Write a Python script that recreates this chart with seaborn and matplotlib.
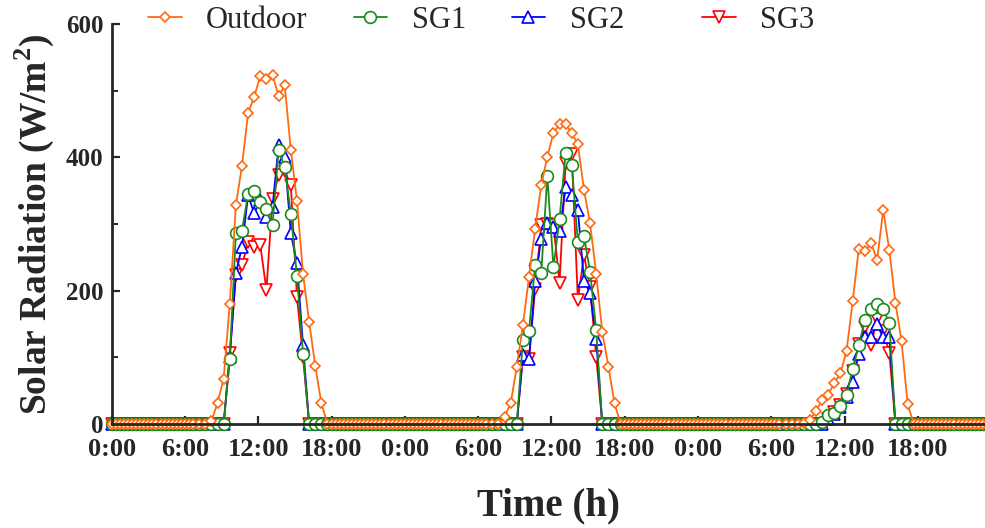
import numpy as np
import matplotlib
matplotlib.use('Agg')
import matplotlib.pyplot as plt
import seaborn as sns
from matplotlib.ticker import MultipleLocator

# daytime readings every 30 min from 7:10 to 17:40 (W/m2), night readings are 0
day_hours = 7 + 10 / 60 + 0.5 * np.arange(22)

outdoor_d1 = [0, 0, 4, 32, 68, 180, 328, 387, 466, 491, 522, 518, 523, 492, 508, 411, 335, 225, 153, 87, 31, 0]
sg1_d1 = [0, 0, 0, 0, 0, 98, 286, 290, 345, 350, 333, 322, 298, 411, 385, 315, 222, 105, 0, 0, 0, 0]
sg2_d1 = [0, 0, 0, 0, 0, 100, 226, 266, 343, 316, 336, 311, 326, 418, 401, 286, 241, 118, 0, 0, 0, 0]
sg3_d1 = [0, 0, 0, 0, 0, 106, 223, 238, 273, 266, 268, 201, 338, 373, 380, 358, 191, 100, 0, 0, 0, 0]

outdoor_d2 = [0, 0, 11, 31, 86, 148, 221, 293, 358, 401, 436, 450, 450, 436, 420, 351, 301, 225, 138, 86, 31, 0]
sg1_d2 = [0, 0, 0, 0, 0, 126, 140, 238, 226, 372, 235, 308, 407, 388, 273, 282, 228, 141, 0, 0, 0, 0]
sg2_d2 = [0, 0, 0, 0, 0, 103, 97, 214, 278, 302, 295, 289, 355, 343, 321, 215, 197, 127, 0, 0, 0, 0]
sg3_d2 = [0, 0, 0, 0, 0, 101, 98, 203, 298, 300, 298, 212, 391, 405, 186, 253, 205, 101, 0, 0, 0, 0]

outdoor_d3 = [0, 0, 0, 2, 6, 20, 36, 44, 62, 76, 110, 184, 263, 259, 272, 246, 321, 261, 182, 124, 30, 0]
sg1_d3 = [0, 0, 0, 0, 0, 0, 3, 13, 16, 27, 44, 82, 118, 156, 172, 180, 172, 152, 0, 0, 0, 0]
sg2_d3 = [0, 0, 0, 0, 0, 0, 0, 8, 15, 25, 40, 63, 105, 131, 131, 150, 131, 130, 0, 0, 0, 0]
sg3_d3 = [0, 0, 0, 0, 0, 0, 0, 8, 18, 28, 45, 80, 120, 145, 118, 158, 140, 107, 0, 0, 0, 0]

tick_labels = ['0:00', '6:00', '12:00', '18:00'] * 3

# night logged every 20 min
morning = np.arange(21) / 3
evening = 18 + np.arange(18) / 3


def full_day(days):
    t, v = [], []
    for d, vals in enumerate(days):
        t += list(24 * d + morning) + list(24 * d + day_hours) + list(24 * d + evening)
        v += [0] * len(morning) + list(vals) + [0] * len(evening)
    return np.array(t), np.array(v)


sns.set_style('ticks')
plt.rcParams['font.family'] = ['Liberation Serif', 'DejaVu Serif']
plt.rcParams['mathtext.fontset'] = 'custom'
plt.rcParams['mathtext.rm'] = 'Liberation Serif'
plt.rcParams['mathtext.bf'] = 'Liberation Serif:bold'

fig = plt.figure(figsize=(9.85, 5.28), dpi=100)
ax = fig.add_axes([0.1134, 0.197, 0.8866, 0.7576])

series = [
    ('SG3', [sg3_d1, sg3_d2, sg3_d3], '#FF0000', 'v', 8),
    ('SG2', [sg2_d1, sg2_d2, sg2_d3], '#0000FF', '^', 8),
    ('SG1', [sg1_d1, sg1_d2, sg1_d3], '#1B8A1B', 'o', 8.5),
    ('Outdoor', [outdoor_d1, outdoor_d2, outdoor_d3], '#FF6A10', 'D', 5.5),
]
for name, days, c, m, ms in series:
    t, v = full_day(days)
    sns.lineplot(x=t, y=v, ax=ax, color=c, marker=m, markersize=ms,
                 markerfacecolor='white', markeredgecolor=c, markeredgewidth=1.2,
                 linewidth=1.3, label=name, clip_on=False, legend=False)

ax.set_xlim(0, 71.5)
ax.set_ylim(0, 600)
ax.set_xticks(np.arange(0, 72, 6))
ax.set_xticklabels(tick_labels)
ax.set_yticks([0, 200, 400, 600])
ax.yaxis.set_minor_locator(MultipleLocator(100))
ax.tick_params(axis='both', which='major', direction='in', length=6, width=1.6)
ax.tick_params(axis='x', which='major', pad=10, labelsize=19)
ax.tick_params(axis='y', which='major', pad=6, labelsize=18)
ax.tick_params(axis='y', which='minor', direction='in', length=4, width=1.4)
for lab in ax.get_xticklabels() + ax.get_yticklabels():
    lab.set_fontweight('bold')

sns.despine(ax=ax)
for s in ['left', 'bottom']:
    ax.spines[s].set_linewidth(2)

ax.set_xlabel('Time (h)', fontsize=28, fontweight='bold', labelpad=19)
ax.set_ylabel(r'Solar Radiation (W/m$^\mathbf{2}$)', fontsize=27, fontweight='bold', labelpad=7)

handles, labels = ax.get_legend_handles_labels()
hmap = dict(zip(labels, handles))
leg_kw = dict(loc='center left', bbox_transform=fig.transFigure, frameon=False,
              fontsize=22, handlelength=1.1, handletextpad=0.8,
              columnspacing=1.5, borderaxespad=0)
first = ['Outdoor', 'SG1', 'SG2']
leg1 = ax.legend([hmap[k] for k in first], first, ncol=3,
                 bbox_to_anchor=(0.138, 0.962), **leg_kw)
ax.add_artist(leg1)
ax.legend([hmap['SG3']], ['SG3'], bbox_to_anchor=(0.7005, 0.962), **leg_kw)

fig.savefig('out.png', dpi=100)
